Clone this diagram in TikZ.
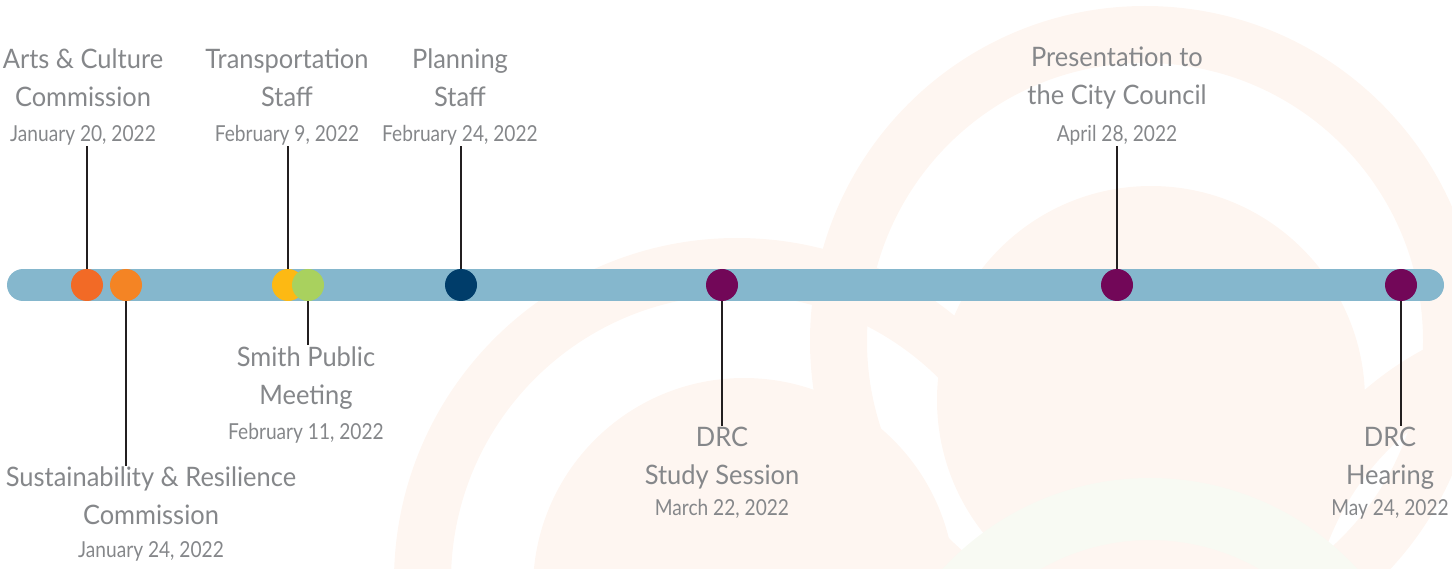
\documentclass[tikz,border=0pt]{standalone}
\usepackage{fontspec}
\setmainfont{Lato}[FakeStretch=0.95]
\newfontfamily\datefamily{Lato}[FakeStretch=0.87]
\usepackage{tikz}
\usetikzlibrary{positioning}
\definecolor{barblue}{HTML}{85B7CD}
\definecolor{flame}{HTML}{F26A26}
\definecolor{tangerine}{HTML}{F48424}
\definecolor{sun}{HTML}{FDB913}
\definecolor{lime}{HTML}{A9D15E}
\definecolor{navy}{HTML}{003D6A}
\definecolor{plum}{HTML}{720758}
\definecolor{stemblack}{HTML}{231F20}
\definecolor{labelgray}{HTML}{85878A}
\definecolor{peach}{HTML}{FEF6F1}
\definecolor{sage}{HTML}{F8FAF3}
\tikzstyle{event}=[circle,minimum size=32pt,inner sep=0pt]
\tikzstyle{heading}=[font=\fontsize{26.8}{38}\selectfont,text=labelgray,align=center,inner sep=1pt]
\tikzstyle{when}=[font=\datefamily\fontsize{22}{26}\selectfont,text=labelgray,inner sep=1pt]
\tikzstyle{stem}=[draw=stemblack,line width=2.4pt]
\tikzstyle{ring}=[even odd rule]

\begin{document}
\begin{tikzpicture}[x=1pt,y=-1pt]
    \useasboundingbox (0,0) rectangle (1452,569);
    % faint rings in the background
    \begin{scope}
        \clip (0,0) rectangle (1452,569);
        \fill[peach,ring] (737,581) circle (343pt) (737,581) circle (286pt);
        \fill[peach] (744,589) circle (211pt);
        \fill[peach,ring] (1145,341) circle (335pt) (1145,341) circle (278pt);
        \fill[peach] (1151,400) circle (214pt);
        \fill[peach,ring] (1580,640) circle (330pt) (1580,640) circle (270pt);
        \fill[sage,ring] (1150,760) circle (282pt) (1150,760) circle (220pt);
    \end{scope}
    % the time line
    \draw[barblue,line width=32pt,line cap=round] (23,285) -- (1428,285);
    \foreach \x/\name/\col in {87/arts/flame, 126/sustain/tangerine, 288/transport/sun,
        308/smith/lime, 461/planning/navy, 722/study/plum, 1117/council/plum, 1401/hearing/plum}
        \node[event,fill=\col] (\name) at (\x,285) {};
    % labels above the line
    \foreach \x/\name/\head/\when in {83/arts/{Arts \& Culture\\Commission}/{January 20, 2022},
        287/transport/{Transportation\\Staff}/{February 9, 2022},
        460/planning/{Planning\\Staff}/{February 24, 2022},
        1117/council/{Presentation to\\the City Council}/{April 28, 2022}}
    {
        \node[heading] (\name head) at (\x,78) {\head};
        \node[when] (\name date) at (\x,135) {\when};
        \path[stem] (\name date.south -| \name.north) -- (\name.north);
    }
    % labels below the line
    \foreach \x/\name/\head/\when/\hy/\wy in {151/sustain/{Sustainability \& Resilience\\Commission}/{January 24, 2022}/496/551,
        306/smith/{Smith Public\\Meeting}/{February 11, 2022}/378/433,
        722/study/{DRC\\Study Session}/{March 22, 2022}/458/509,
        1390/hearing/{DRC\\Hearing}/{May 24, 2022}/458/509}
    {
        \node[heading] (\name head) at (\x,\hy) {\head};
        \node[when] (\name date) at (\x,\wy) {\when};
        \path[stem] (\name.south) -- (\name head.north -| \name.south);
    }
\end{tikzpicture}
\end{document}
